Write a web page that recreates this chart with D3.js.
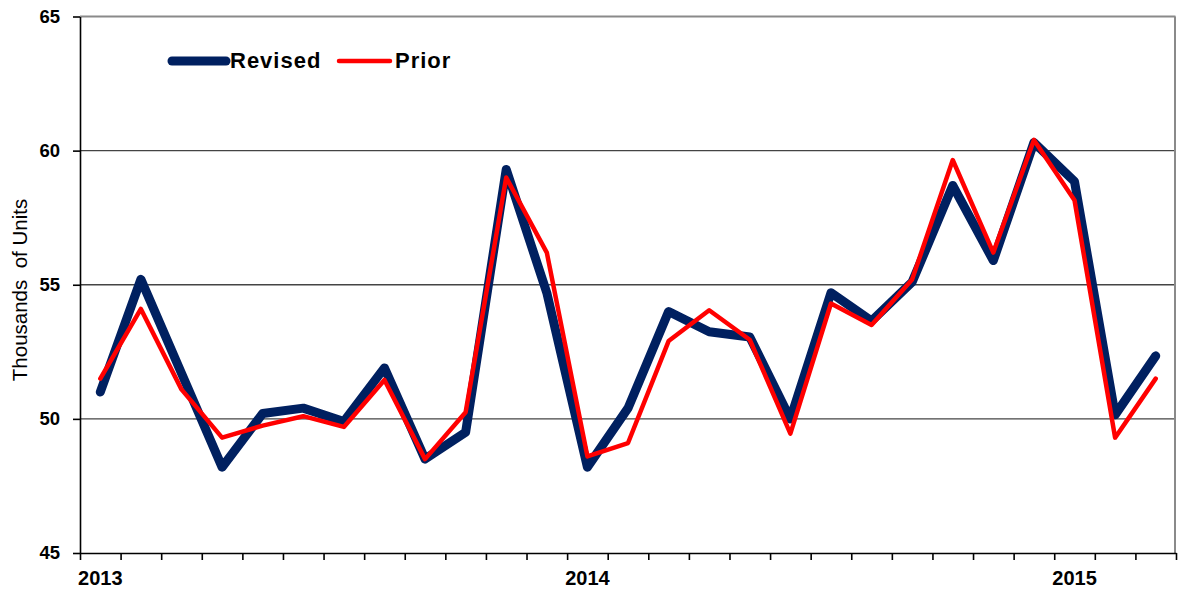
<!DOCTYPE html>
<html>
<head>
<meta charset="utf-8">
<script src="https://cdn.jsdelivr.net/npm/d3@7"></script>
<style>
  body { margin: 0; background: #fff; }
  text { font-family: "Liberation Sans", Arial, sans-serif; }
</style>
</head>
<body>
<script>
// monthly data Jan 2013 - Mar 2015
var months = ["2013-01","2013-02","2013-03","2013-04","2013-05","2013-06","2013-07","2013-08","2013-09","2013-10","2013-11","2013-12",
              "2014-01","2014-02","2014-03","2014-04","2014-05","2014-06","2014-07","2014-08","2014-09","2014-10","2014-11","2014-12",
              "2015-01","2015-02","2015-03"];
var revised = [51.0, 55.2, 51.7, 48.2, 50.2, 50.4, 49.9, 51.9, 48.5, 49.5, 59.3, 54.7,
               48.2, 50.4, 54.0, 53.25, 53.05, 50.0, 54.7, 53.65, 55.1, 58.7, 55.9, 60.3,
               58.85, 50.15, 52.35];
var prior = [51.5, 54.1, 51.1, 49.3, 49.75, 50.1, 49.7, 51.45, 48.5, 50.25, 59.0, 56.2,
             48.6, 49.1, 52.9, 54.05, 52.95, 49.45, 54.3, 53.5, 55.2, 59.65, 56.2, 60.4,
             58.15, 49.3, 51.5];
var yearLabels = [["2013-01", "2013"], ["2014-01", "2014"], ["2015-01", "2015"]];
var yTicks = [45, 50, 55, 60, 65];

var w = 1178, h = 592;
var plotLeft = 80, plotRight = 1176, plotTop = 16.5, plotBottom = 553;

var svg = d3.select("body").append("svg")
  .attr("width", w)
  .attr("height", h);

var x = d3.scaleBand().domain(months).range([plotLeft, plotRight]).padding(0);
var xEdge = d3.scaleLinear().domain([0, months.length]).range([plotLeft, plotRight]);
var y = d3.scaleLinear().domain([45, 65]).range([plotBottom, plotTop]);

// gridlines
svg.selectAll("line.grid")
  .data([50, 55, 60])
  .enter().append("line")
  .attr("class", "grid")
  .attr("x1", plotLeft).attr("x2", 1175)
  .attr("y1", function(d) { return y(d); })
  .attr("y2", function(d) { return y(d); })
  .attr("stroke", "#444")
  .attr("stroke-width", 1.3);

// top and right border
svg.append("line")
  .attr("x1", plotLeft).attr("x2", 1175.5)
  .attr("y1", y(65)).attr("y2", y(65))
  .attr("stroke", "#8a8a8a").attr("stroke-width", 2);
svg.append("line")
  .attr("x1", 1175).attr("x2", 1175)
  .attr("y1", y(65)).attr("y2", plotBottom)
  .attr("stroke", "#8a8a8a").attr("stroke-width", 2);

// y axis
var yAxis = svg.append("g")
  .attr("transform", "translate(" + plotLeft + ",0)")
  .call(d3.axisLeft(y).tickValues(yTicks).tickSize(7).tickPadding(13).tickSizeOuter(0));
yAxis.select(".domain").attr("stroke", "#000").attr("stroke-width", 1.6);
yAxis.selectAll(".tick line").attr("stroke", "#000").attr("stroke-width", 1.6);
yAxis.selectAll(".tick text")
  .attr("font-family", "Liberation Sans, Arial, sans-serif")
  .attr("font-size", "18.5px")
  .attr("font-weight", "bold")
  .attr("fill", "#000");

// x axis, ticks between months
var xAxis = svg.append("g")
  .attr("transform", "translate(0," + plotBottom + ")")
  .call(d3.axisBottom(xEdge).tickValues(d3.range(months.length + 1)).tickFormat("").tickSize(7).tickSizeOuter(0));
xAxis.select(".domain").attr("stroke", "#000").attr("stroke-width", 1.6);
xAxis.selectAll(".tick line").attr("stroke", "#000").attr("stroke-width", 1.6);

svg.selectAll("text.year")
  .data(yearLabels)
  .enter().append("text")
  .attr("class", "year")
  .attr("x", function(d) { return x(d[0]) + x.bandwidth() / 2; })
  .attr("y", 585)
  .attr("text-anchor", "middle")
  .attr("font-size", "20px")
  .attr("font-weight", "bold")
  .text(function(d) { return d[1]; });

// y title
svg.append("text")
  .attr("transform", "translate(26.5,290) rotate(-90)")
  .attr("text-anchor", "middle")
  .attr("font-size", "20.5px")
  .style("white-space", "pre")
  .text("Thousands  of Units");

// lines
var line = d3.line()
  .x(function(d, i) { return x(months[i]) + x.bandwidth() / 2; })
  .y(function(d) { return y(d); });

svg.append("path")
  .datum(revised)
  .attr("d", line)
  .attr("fill", "none")
  .attr("stroke", "#002060")
  .attr("stroke-width", 9)
  .attr("stroke-linejoin", "round")
  .attr("stroke-linecap", "round");

svg.append("path")
  .datum(prior)
  .attr("d", line)
  .attr("fill", "none")
  .attr("stroke", "#ff0000")
  .attr("stroke-width", 4.5)
  .attr("stroke-linejoin", "round")
  .attr("stroke-linecap", "round");

// legend
var legend = [
  {name: "Revised", color: "#002060", width: 9, x1: 172, x2: 226, tx: 230},
  {name: "Prior", color: "#ff0000", width: 4.5, x1: 339, x2: 390, tx: 395}
];
var lg = svg.selectAll("g.legend")
  .data(legend)
  .enter().append("g")
  .attr("class", "legend");
lg.append("line")
  .attr("x1", function(d) { return d.x1; })
  .attr("x2", function(d) { return d.x2; })
  .attr("y1", 61).attr("y2", 61)
  .attr("stroke", function(d) { return d.color; })
  .attr("stroke-width", function(d) { return d.width; })
  .attr("stroke-linecap", "round");
lg.append("text")
  .attr("x", function(d) { return d.tx; })
  .attr("y", 68)
  .attr("font-size", "22px")
  .attr("font-weight", "bold")
  .attr("letter-spacing", "1px")
  .text(function(d) { return d.name; });
</script>
</body>
</html>
